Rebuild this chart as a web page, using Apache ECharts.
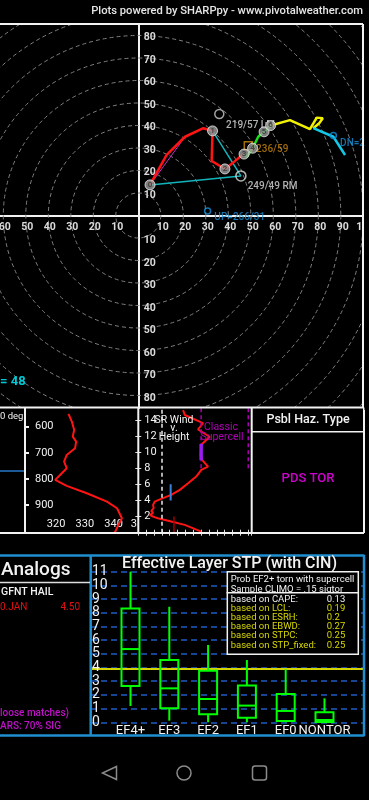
<!DOCTYPE html>
<html><head><meta charset="utf-8">
<script src="https://cdn.jsdelivr.net/npm/echarts@6/dist/echarts.min.js"></script>
<style>html,body{margin:0;padding:0;background:#000;}#c{width:369px;height:800px;}</style>
</head><body><div id="c"></div>
<script>
// ---------------- DATA ----------------
// Hodograph (u, v in kt)
const ringSpeeds = [10,20,30,40,50,60,70,80,90,100,110,120,130,140];
const ringLabelsUp = [10,20,30,40,50,60,70,80];
const ringLabelsDown = [10,20,30,40,50,60,70,80];
const ringLabelsRight = [10,20,30,40,50,60,70,80,90,100];
const ringLabelsLeft = [10,20,30,40,50,60];
const hodo0to3km = [[5.2,13.6],[12.6,26.9],[20.8,35.0],[28.9,38.8],[33.0,37.6],[32.6,24.2],[38.5,20.7],[40.8,22.4],[44.4,25.4],[47.0,27.3]];
const hodo3to6km = [[47.0,27.3],[48.2,26.1],[50.8,29.9],[53.3,35.0],[55.9,37.2],[58.8,40.0]];
const hodo6to9km = [[58.8,40.0],[67.4,42.4],[76.3,38.4],[79.3,43.5],[82.0,43.2],[80.4,41.0],[77.8,38.8]];
const hodo9to12km = [[77.8,38.8],[86.7,35.0],[91.9,26.9]];
const kmMarkers = [[5.2,13.6],[33.0,37.6],[38.5,20.7],[47.0,27.3],[50.8,29.9],[55.9,37.2],[58.8,40.0]];
const kmLabels = ['0','1','2','3','4','5','6'];
const stormRM = [45.6,17.6];
const stormRMLabel = '249/49 RM';
const stormLM = [36.0,45.1];
const stormLMLabel = '219/57 LM';
const meanWind = [48.9,31.0];
const meanWindLabel = '236/59';
const upshear = [30.8,2.0];
const upshearLabel = 'UP=266/31';
const downshear = [86.7,35.5];
const downshearLabel = 'DN=248/94';
const criticalAngleLines = [[5.2,13.6],[45.6,17.6],[33.0,37.6]];
const shearLine = [[5.2,13.6],[20.8,35.0]];
const criticalAngleText = '= 48';

// Theta-E profile
const thetaEPres = [551.5,580.9,612.6,638.2,657.3,682.4,708,733.6,758.8,777.9,803.4,826.3,854.2,886.3,911.5,949.6,975.2,1006.9];
const thetaEVals = [324.3,325.5,326.3,325.8,327.0,326.6,323.7,322.8,323.7,322.0,319.7,323.7,330.7,337.7,341.2,342.9,341.7,340.3];
const thetaEPresTicks = [600,700,800,900];
const thetaETempTicks = [320,330,340];

// Storm-relative wind vs height
const srHeights = [15.2,14.6,13.6,12.8,11.9,10.9,9.65,9.03,8.2,7.8,6.96,6.14,5.31,4.69,4.28,3.86,3.45,3.04,2.7,2.42,2.21,2.0,1.8,1.38,0.97,0.14];
const srSpeeds  = [28.5,29.6,41.2,38.0,45.5,40.1,39.7,40.6,44.4,40.1,36.9,31.7,26.4,21.0,15.7,10.4,9.4,9.8,8.3,9.4,7.3,9.4,12.5,21.0,29.6,40.1];
const srHeightTicks = [2,4,6,8,10,12,14];
const srMinLine = 15;
const classicSupercell = [40,70];
const classicBase = 8;
const sr9to11 = 40;
const sr4to6 = 20.6;
const sr0to2 = 22.7;

// Effective layer STP
const stpCats = ['EF4+','EF3','EF2','EF1','EF0','NONTOR'];
const stpMin = [1.19,0.12,0,0,0,0];
const stpQ1  = [2.65,1.02,0.58,0.34,0.1,0.02];
const stpMed = [5.35,2.48,1.70,1.22,0.83,0.17];
const stpQ3  = [8.32,4.55,3.77,2.68,2.07,0.73];
const stpMax = [11.0,8.44,5.65,4.55,3.87,1.75];
const stpTicks = [0,1,2,3,4,5,6,7,8,9,10,11];
const stpCurrent = 3.89;
const probLabels = ['based on CAPE:','based on LCL:','based on ESRH:','based on EBWD:','based on STPC:','based on STP_fixed:'];
const probValues = ['0.13','0.19','0.2','0.27','0.25','0.25'];

// ---------------- CHART ----------------
const chart = echarts.init(document.getElementById('c'), null, {renderer:'canvas', width:369, height:800});
const F = 'Roboto';
function txt(text, x, y, size, color, align, weight, z) {
  return {type:'text', x:x, y:y, z:z||50, silent:true,
    style:{text:text, fill:color, font:(weight||'normal')+' '+size+'px '+F,
      align:align||'left', textAlign:align||'left', verticalAlign:'middle', textVerticalAlign:'middle'}};
}
function ln(x1,y1,x2,y2,color,w,z){
  return {type:'line', z:z||40, silent:true, shape:{x1:x1,y1:y1,x2:x2,y2:y2}, style:{stroke:color, lineWidth:w||2}};
}
const WHITE = '#f2f2f2';
const BLUEBOX = '#1f8fd0';

const ringLabelData = [];
ringLabelsUp.forEach(v=>ringLabelData.push([v,0]));
ringLabelsDown.forEach(v=>ringLabelData.push([v,1]));
ringLabelsRight.forEach(v=>ringLabelData.push([v,2]));
ringLabelsLeft.forEach(v=>ringLabelData.push([v,3]));

function simpleLine(data, color, width, xi, yi, extra){
  return Object.assign({type:'line', xAxisIndex:xi, yAxisIndex:yi, data:data, symbol:'none', silent:true,
    lineStyle:{color:color, width:width}, z:4}, extra||{});
}
function marker(pt, symbol, size, color, label, labelColor, offset, fsize, fweight){
  return {type:'scatter', xAxisIndex:0, yAxisIndex:0, data:[pt], symbol:symbol, symbolSize:size, silent:true, z:6,
    itemStyle:{color:'rgba(0,0,0,0)', borderColor:color, borderWidth:1.5},
    label:{show:true, position:'right', distance:0, offset:offset, formatter:label, color:labelColor,
      fontSize:fsize, fontWeight:fweight, fontFamily:F}};
}

const graphics = [
  txt('Plots powered by SHARPpy - www.pivotalweather.com', 363, 11, 11.2, '#e6e6e6', 'right', '500'),
  ln(0,24,363,24,WHITE,2), ln(363,24,363,408,WHITE,2),
  {type:'rect', z:100, silent:true, shape:{x:364.5,y:20,width:6,height:390}, style:{fill:'#000'}},
  txt(criticalAngleText, 0, 382, 13, '#00c8d6', 'left', 'bold'),
  // middle panels
  ln(0,407.5,364,407.5,WHITE,2), ln(0,533,364,533,WHITE,2),
  ln(25,407.5,25,533,WHITE,2), ln(138.3,407.5,138.3,533,WHITE,2), ln(251.7,407.5,251.7,533,WHITE,2), ln(364,407.5,364,533,WHITE,2),
  ln(251.7,431.7,364,431.7,WHITE,1.5),
  txt('0 deg', 0, 416.7, 9.5, WHITE, 'left'),
  ln(0,471,24,471,'#1b5a96',2),
  txt('3', 137, 524.3, 11, WHITE, 'right'),
  txt('SR Wind', 174, 420, 10.5, WHITE, 'center'),
  txt('v.', 174, 428.5, 10.5, WHITE, 'center'),
  txt('Height', 174, 437.5, 10.5, WHITE, 'center'),
  txt('Classic', 221, 427.7, 10.5, '#b000b8', 'center'),
  txt('Supercell', 222, 437.3, 10.5, '#b000b8', 'center'),
  txt('Psbl Haz. Type', 308, 420, 12.5, WHITE, 'center', '500'),
  txt('PDS TOR', 308, 478.3, 13, '#d000d0', 'center', '500'),
  // bottom boxes
  ln(0,555.5,364.5,555.5,BLUEBOX,2.5), ln(0,735.5,364.5,735.5,BLUEBOX,2.5),
  ln(90.7,555,90.7,736,BLUEBOX,2.5), ln(364,555,364,736,BLUEBOX,2.5),
  ln(0,582.5,90,582.5,'#dddddd',1.5),
  txt('Analogs', 1, 570.7, 19, WHITE, 'left', '500'),
  txt('GFNT HAIL', 1, 592, 10.5, WHITE, 'left', '500'),
  txt('0.JAN', 0, 607.3, 10, '#e01010', 'left'),
  txt('4.50', 80, 607.3, 10, '#e01010', 'right'),
  txt('loose matches)', 0, 713.5, 10, '#c010c8', 'left', '500'),
  txt('ARS: 70% SIG', 0, 726, 10, '#c010c8', 'left', '500'),
  txt('Effective Layer STP (with CIN)', 229.5, 564, 16, WHITE, 'center', '500'),
  // info box
  {type:'rect', z:60, silent:true, shape:{x:227.3,y:571.7,width:131,height:21}, style:{fill:'#000', stroke:WHITE, lineWidth:1.5}},
  txt('Prob EF2+ torn with supercell', 230.7, 580, 9.5, WHITE, 'left', 'normal', 61),
  txt('Sample CLIMO = .15 sigtor', 230.7, 590, 9.5, WHITE, 'left', 'normal', 61),
  {type:'rect', z:62, silent:true, shape:{x:227.3,y:592.7,width:131,height:61.6}, style:{fill:'#000', stroke:WHITE, lineWidth:1.5}},
  // nav bar
  {type:'polygon', z:50, silent:true, shape:{points:[[116.5,766.5],[116.5,779.5],[102.5,773]]}, style:{fill:null, stroke:'#8a8a8a', lineWidth:1.5}},
  {type:'circle', z:50, silent:true, shape:{cx:184,cy:773,r:7}, style:{fill:null, stroke:'#8a8a8a', lineWidth:1.5}},
  {type:'rect', z:50, silent:true, shape:{x:252.5,y:766,width:14,height:14,r:2.5}, style:{fill:null, stroke:'#8a8a8a', lineWidth:1.5}}
];
probLabels.forEach((t,i)=>{
  const col = i===0 ? WHITE : '#d8d800';
  graphics.push(txt(t, 230.7, 599.3+i*9.2, 9.5, col, 'left', 'normal', 63));
  graphics.push(txt(probValues[i], 326.7, 599.3+i*9.2, 9.5, col, 'left', 'normal', 63));
});

const option = {
  backgroundColor:'#000',
  animation:false,
  textStyle:{fontFamily:F},
  graphic:{elements:graphics},
  grid:[
    {left:0, top:24, width:363, height:384},          // hodograph
    {left:25, top:408.3, width:113.3, height:124.4},   // theta-e
    {left:138.3, top:408.3, width:113.4, height:124.4}, // SR wind
    {left:91, top:571.7, width:273, height:150.6},      // STP background
    {left:111.1, top:571.7, width:232.8, height:150.6}  // STP boxes
  ],
  xAxis:[
    {gridIndex:0, type:'value', min:-61.47, max:99.87, axisLine:{show:true, onZero:true, lineStyle:{color:WHITE, width:2}},
      axisTick:{show:false}, axisLabel:{show:false}, splitLine:{show:false}},
    {gridIndex:1, type:'value', min:309.2, max:348.6, axisLine:{show:false}, axisTick:{show:false}, splitLine:{show:false},
      axisLabel:{show:true, inside:true, margin:3, customValues:thetaETempTicks, color:WHITE, fontSize:11, fontFamily:F}},
    {gridIndex:2, type:'value', min:0, max:72.2, interval:5, position:'bottom', axisLine:{show:false}, splitLine:{show:false},
      axisTick:{show:true, inside:true, length:3, lineStyle:{color:'#ddd'}}, axisLabel:{show:false}},
    {gridIndex:2, type:'value', min:0, max:72.2, interval:5, position:'top', axisLine:{show:false}, splitLine:{show:false},
      axisTick:{show:true, inside:true, length:3, lineStyle:{color:'#ddd'}}, axisLabel:{show:false}},
    {gridIndex:3, type:'value', min:0, max:1, show:false},
    {gridIndex:4, type:'category', data:stpCats, axisLine:{show:false}, axisTick:{show:false}, splitLine:{show:false},
      axisLabel:{show:true, margin:2, color:WHITE, fontSize:13, fontFamily:F, interval:0}}
  ],
  yAxis:[
    {gridIndex:0, type:'value', min:-85.56, max:85.11, axisLine:{show:true, onZero:true, lineStyle:{color:WHITE, width:2}},
      axisTick:{show:false}, axisLabel:{show:false}, splitLine:{show:false}},
    {gridIndex:1, type:'value', inverse:true, min:530, max:1005, axisLine:{show:false}, splitLine:{show:false},
      axisTick:{show:true, inside:true, length:4, customValues:thetaEPresTicks, lineStyle:{color:WHITE, width:2}},
      axisLabel:{show:true, inside:true, margin:10, customValues:thetaEPresTicks, color:WHITE, fontSize:11, fontFamily:F}},
    {gridIndex:2, type:'value', min:0, max:15.43, axisLine:{show:false}, splitLine:{show:false},
      axisTick:{show:true, inside:true, length:3, customValues:srHeightTicks, lineStyle:{color:'#ddd'}},
      axisLabel:{show:true, inside:true, margin:6, customValues:srHeightTicks, color:WHITE, fontSize:11, fontFamily:F}},
    {gridIndex:2, type:'value', min:0, max:15.43, position:'right', axisLine:{show:false}, splitLine:{show:false},
      axisTick:{show:true, inside:true, length:3, customValues:srHeightTicks, lineStyle:{color:'#ddd'}}, axisLabel:{show:false}},
    {gridIndex:3, type:'value', min:0, max:11, interval:1, axisLine:{show:false}, axisTick:{show:false},
      splitLine:{show:true, lineStyle:{color:'#1f5cc4', width:1.5, type:[6,4]}},
      axisLabel:{show:false}},
    {gridIndex:4, type:'value', min:0, max:11, show:false}
  ],
  series:[
    // hodograph rings
    {type:'custom', xAxisIndex:0, yAxisIndex:0, clip:true, silent:true, z:1,
      data:ringSpeeds.map(r=>[r,0]), encode:{x:0,y:1},
      renderItem:function(params, api){
        const c = api.coord([0,0]); const e = api.coord([api.value(0),0]);
        return {type:'circle', shape:{cx:c[0], cy:c[1], r:e[0]-c[0]},
          style:{fill:null, stroke:'#808080', lineWidth:1, lineDash:[4,3]}};
      }},
    // ring labels
    {type:'custom', xAxisIndex:0, yAxisIndex:0, clip:true, silent:true, z:3,
      data:ringLabelData, encode:{x:0,y:1},
      renderItem:function(params, api){
        const v = api.value(0), d = api.value(1);
        let p, dx, dy;
        if (d===0){ p = api.coord([0,v]); dx=11.5; dy=2; }
        else if (d===1){ p = api.coord([0,-v]); dx=11.5; dy=2.5; }
        else if (d===2){ p = api.coord([v,0]); dx=2; dy=11.5; }
        else { p = api.coord([-v,0]); dx=1.5; dy=11.5; }
        return {type:'text', x:p[0]+dx, y:p[1]+dy,
          style:{text:String(v), fill:'#dcdcdc', font:'bold 10.5px '+F, align:'center', verticalAlign:'middle'}};
      }},
    simpleLine(shearLine, '#c030c8', 1, 0, 0),
    simpleLine(criticalAngleLines, '#12b4bc', 1.5, 0, 0),
    simpleLine(hodo0to3km, '#ff1414', 2.5, 0, 0),
    simpleLine(hodo3to6km, '#18e018', 2.5, 0, 0),
    simpleLine(hodo6to9km, '#f2f200', 2.5, 0, 0),
    simpleLine(hodo9to12km, '#12c8e6', 2.5, 0, 0),
    {type:'scatter', xAxisIndex:0, yAxisIndex:0, data:kmMarkers, symbolSize:10, silent:true, z:7,
      itemStyle:{color:'#9c9c9c', borderColor:'#eeeeee', borderWidth:1},
      label:{show:true, position:'inside', formatter:p=>kmLabels[p.dataIndex], color:'#303030', fontSize:8, fontWeight:'bold', fontFamily:F}},
    marker(stormRM, 'circle', 10, '#dddddd', stormRMLabel, '#dddddd', [1,11], 10, '500'),
    marker(stormLM, 'circle', 9, '#cccccc', stormLMLabel, '#dddddd', [1.5,11.4], 10, '500'),
    marker(meanWind, 'rect', 8, '#d08c0a', meanWindLabel, '#c8860c', [3,4], 10, '500'),
    marker(upshear, 'circle', 6, '#1890d8', upshearLabel, '#1890d8', [3,7], 10, '500'),
    marker(downshear, 'circle', 6, '#1890d8', downshearLabel, '#1890d8', [3,7.6], 10, '500'),
    // theta-e
    simpleLine(thetaEVals.map((t,i)=>[t, thetaEPres[i]]), '#ff1414', 2, 1, 1, {clip:true}),
    // SR wind
    simpleLine(srSpeeds.map((s,i)=>[s, srHeights[i]]), '#ff1414', 2, 2, 2, {clip:true,
      markLine:{silent:true, symbol:'none', label:{show:false}, lineStyle:{color:'#e8e8e8', type:[4,3], width:1.5}, data:[{xAxis:srMinLine}]}}),
    simpleLine([[classicSupercell[0],classicBase],[classicSupercell[0],15.43]], '#a800b0', 1.5, 2, 2, {lineStyle:{color:'#a800b0', width:1.5, type:[4,3]}}),
    simpleLine([[classicSupercell[1],classicBase],[classicSupercell[1],15.43]], '#a800b0', 1.5, 2, 2, {lineStyle:{color:'#a800b0', width:1.5, type:[4,3]}}),
    simpleLine([[sr9to11,9],[sr9to11,11]], '#9a1cf0', 3.5, 2, 2, {z:6}),
    simpleLine([[sr4to6,4],[sr4to6,6]], '#3c82dc', 2, 2, 2, {z:6}),
    simpleLine([[sr0to2,0],[sr0to2,2]], '#a00000', 1.5, 2, 2, {z:6}),
    // STP current value line
    simpleLine([[0,stpCurrent],[1,stpCurrent]], '#d4d400', 2, 4, 4),
    // STP y-axis tick labels
    {type:'custom', xAxisIndex:4, yAxisIndex:4, silent:true, z:8,
      data:stpTicks.map(t=>[0,t]), encode:{x:0,y:1},
      renderItem:function(params, api){
        const p = api.coord([0, api.value(1)]);
        return {type:'text', x:p[0]+1, y:p[1],
          style:{text:String(api.value(1)), fill:WHITE, font:'14px '+F, align:'left', verticalAlign:'middle'}};
      }},
    // STP box plots
    {type:'custom', xAxisIndex:5, yAxisIndex:5, silent:true, z:5,
      data:stpCats.map((c,i)=>[i, stpMin[i], stpQ1[i], stpMed[i], stpQ3[i], stpMax[i]]),
      encode:{x:0, y:[1,2,3,4,5]},
      renderItem:function(params, api){
        const i = api.value(0);
        const x = api.coord([i,0])[0];
        const yMin = api.coord([i,api.value(1)])[1];
        const yQ1 = api.coord([i,api.value(2)])[1];
        const yMed = api.coord([i,api.value(3)])[1];
        const yQ3 = api.coord([i,api.value(4)])[1];
        const yMax = api.coord([i,api.value(5)])[1];
        const hw = 9; const st = {stroke:'#00ff00', lineWidth:2, fill:null};
        return {type:'group', children:[
          {type:'line', shape:{x1:x,y1:yMax,x2:x,y2:yQ3}, style:st},
          {type:'line', shape:{x1:x,y1:yQ1,x2:x,y2:yMin}, style:st},
          {type:'rect', shape:{x:x-hw,y:yQ3,width:2*hw,height:yQ1-yQ3}, style:st},
          {type:'line', shape:{x1:x-hw,y1:yMed,x2:x+hw,y2:yMed}, style:st}
        ]};
      }}
  ]
};
chart.setOption(option);
</script>
</body></html>
